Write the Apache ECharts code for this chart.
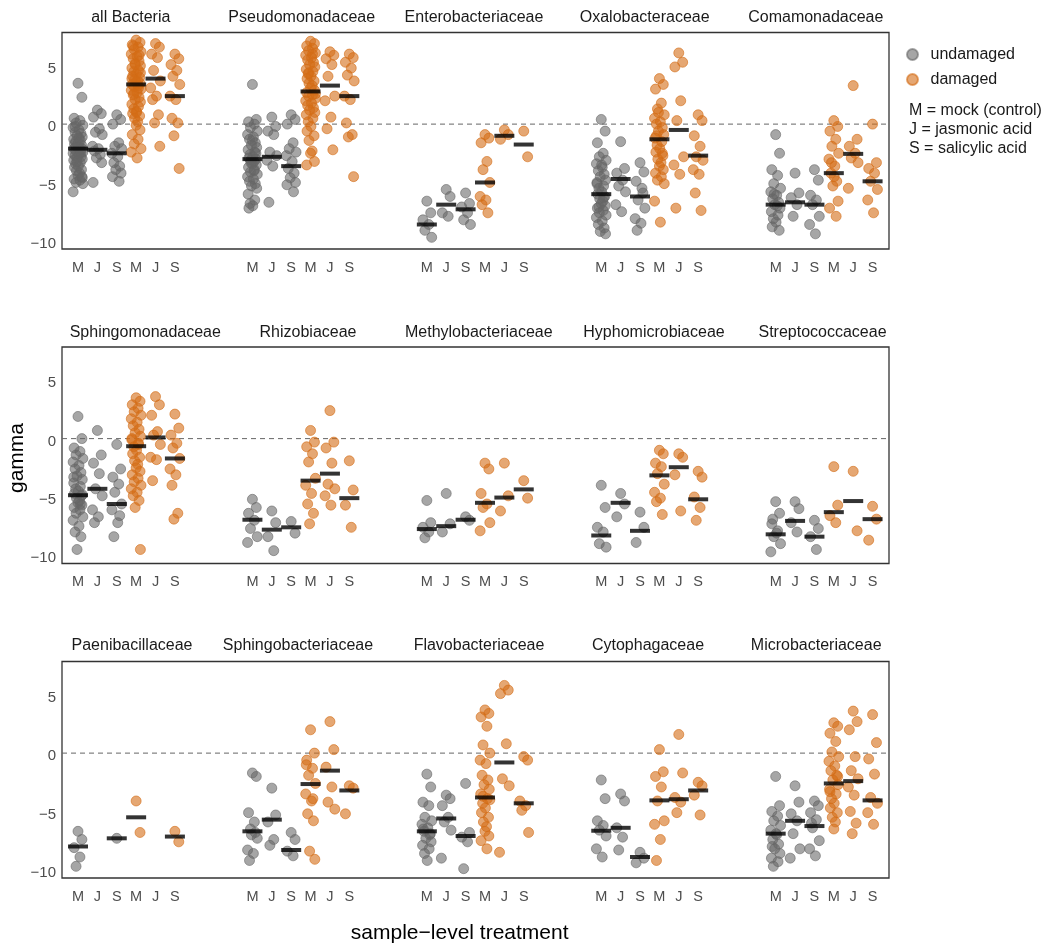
<!DOCTYPE html>
<html><head><meta charset="utf-8">
<script src="https://cdn.jsdelivr.net/npm/echarts@6/dist/echarts.min.js"></script>
<style>html,body{margin:0;padding:0;background:#fff}#c{width:1050px;height:952px}</style>
</head><body><div id="c"></div>
<script>
// ---------------- DATA ----------------
const families = ['all Bacteria','Pseudomonadaceae','Enterobacteriaceae','Oxalobacteraceae','Comamonadaceae',
  'Sphingomonadaceae','Rhizobiaceae','Methylobacteriaceae','Hyphomicrobiaceae','Streptococcaceae',
  'Paenibacillaceae','Sphingobacteriaceae','Flavobacteriaceae','Cytophagaceae','Microbacteriaceae'];
const tickLabels = ['M','J','S','M','J','S'];
const yTickValues = [-10,-5,0,5];
const legendNames = ['undamaged','damaged'];
const keyLines = ['M = mock (control)','J = jasmonic acid','S = salicylic acid'];

// each: [undamaged M, undamaged J, undamaged S, damaged M, damaged J, damaged S]
const v_allBacteria = [
  [3.5,2.3,0.5,0.3,0.1,-0.1,-0.3,-0.5,-0.7,-0.8,-1.0,-1.1,-1.3,-1.4,-1.5,-1.6,-1.7,-1.8,-1.9,-2.0,-2.0,-2.1,-2.1,-2.2,-2.3,-2.4,-2.5,-2.6,-2.7,-2.8,-2.9,-3.0,-3.1,-3.3,-3.4,-3.6,-3.7,-3.9,-4.0,-4.2,-4.4,-4.5,-4.7,-4.8,-5.0,-5.1,-5.8,-1.2,-0.2,-2.4,-3.2,-4.6],
  [1.2,0.9,0.6,-0.4,-0.7,-0.9,-1.9,-2.1,-2.3,-2.6,-2.9,-3.3,-5.0],
  [0.8,0.4,0.0,-1.6,-1.9,-2.1,-2.5,-2.8,-3.3,-3.6,-3.9,-4.2,-4.5,-4.9],
  [7.2,7.0,6.8,6.6,6.4,6.2,6.0,5.8,5.6,5.4,5.2,5.0,4.8,4.6,4.5,4.3,4.1,4.0,3.8,3.7,3.6,3.5,3.4,3.3,3.2,3.0,2.9,2.7,2.5,2.3,2.1,1.9,1.7,1.5,1.3,1.1,0.9,0.7,0.5,0.2,-0.1,-0.5,-0.9,-1.3,-1.7,-2.1,-2.4,-2.9,6.7,5.9,5.1,4.4,3.9,3.1,2.6,1.0],
  [6.9,6.6,6.0,5.7,4.6,3.7,3.1,2.4,2.1,0.8,0.1,-1.9],
  [6.0,5.6,5.1,4.6,4.1,3.4,2.4,2.1,0.5,0.1,-1.0,-3.8]
];
const v_Pseudomonadaceae = [
  [3.4,0.4,0.2,0.0,-0.3,-0.6,-0.9,-1.1,-1.3,-1.6,-1.8,-2.0,-2.2,-2.4,-2.6,-2.8,-2.9,-3.0,-3.1,-3.2,-3.4,-3.5,-3.7,-3.9,-4.1,-4.3,-4.5,-4.7,-4.9,-5.1,-5.3,-5.5,-6.0,-6.5,-6.8,-7.0,-7.2,-2.5,-3.3,-4.0,-1.4],
  [0.6,-0.2,-0.6,-0.9,-2.4,-2.7,-3.1,-3.6,-6.7],
  [0.8,0.4,0.0,-1.6,-2.1,-2.4,-2.7,-3.2,-3.8,-4.2,-4.6,-5.0,-5.2,-5.8],
  [7.1,6.9,6.7,6.5,6.3,6.1,5.9,5.7,5.5,5.3,5.1,4.9,4.7,4.5,4.3,4.1,3.9,3.7,3.5,3.3,3.1,2.9,2.7,2.5,2.4,2.2,2.0,1.8,1.6,1.4,1.2,1.0,0.8,0.5,0.2,-0.2,-0.6,-1.0,-1.4,-2.3,-2.5,-3.2,-3.5,6.0,4.4,2.6],
  [6.2,5.9,5.6,5.1,4.1,2.4,2.0,0.6,-0.4,-2.2],
  [6.0,5.7,5.3,4.8,4.2,3.7,2.4,2.1,0.1,-0.9,-1.1,-4.5]
];
const v_Enterobacteriaceae = [
  [-6.6,-7.6,-8.2,-8.6,-9.1,-9.7],
  [-5.6,-6.2,-7.6,-7.9],
  [-5.9,-6.8,-7.1,-7.6,-8.2,-8.6],
  [-0.9,-1.2,-1.6,-3.2,-3.9,-5.0,-6.2,-6.5,-6.9,-7.6],
  [-0.5,-0.9,-1.3],
  [-0.6,-2.8]
];
const v_Oxalobacteraceae = [
  [0.4,-0.6,-1.6,-2.5,-2.8,-3.1,-3.4,-3.7,-4.0,-4.3,-4.5,-4.8,-5.0,-5.3,-5.5,-5.8,-6.0,-6.2,-6.4,-6.6,-6.8,-7.0,-7.2,-7.4,-7.6,-7.8,-8.0,-8.3,-8.6,-8.9,-9.2,-9.4,-5.1,-6.3,-7.1,-3.5],
  [-1.5,-3.8,-4.2,-4.8,-5.3,-5.8,-6.9,-7.5],
  [-3.3,-4.1,-4.9,-5.5,-6.5,-7.2,-8.1,-8.5,-9.1,-5.9],
  [3.9,3.4,3.0,1.8,1.3,0.8,0.5,0.2,0.0,-0.3,-0.6,-0.9,-1.2,-1.5,-1.8,-2.1,-2.4,-2.7,-3.0,-3.3,-3.6,-3.9,-4.2,-4.5,-4.8,-5.1,-6.6,-8.4,-1.0,-2.5,1.0],
  [6.1,5.3,4.9,2.0,0.3,-2.8,-3.5,-4.3,-7.2],
  [0.8,0.3,-1.0,-1.9,-2.8,-3.1,-3.9,-4.3,-5.9,-7.4]
];
const v_Comamonadaceae = [
  [-0.9,-2.5,-3.9,-4.4,-5.1,-5.5,-5.8,-6.1,-6.4,-6.7,-6.9,-7.2,-7.5,-7.8,-8.1,-8.4,-8.8,-9.1,-6.0,-7.0],
  [-4.2,-5.9,-6.3,-6.9,-7.9],
  [-3.9,-4.8,-6.1,-6.5,-6.9,-7.9,-8.6,-9.4],
  [0.3,-0.2,-0.6,-1.3,-1.9,-2.5,-3.0,-3.6,-4.2,-4.9,-5.3,-6.6,-7.2,-7.9,-3.3,-4.5],
  [3.3,-1.3,-1.9,-2.5,-2.9,-3.3,-5.5],
  [0.0,-3.3,-3.8,-4.2,-4.9,-5.6,-6.5,-7.6]
];
const v_Sphingomonadaceae = [
  [1.9,0.0,-0.8,-1.1,-1.4,-1.7,-2.0,-2.3,-2.6,-2.9,-3.2,-3.5,-3.8,-4.1,-4.3,-4.5,-4.7,-4.9,-5.1,-5.3,-5.5,-5.7,-5.9,-6.1,-6.4,-6.7,-7.0,-7.5,-8.0,-8.4,-9.5,-4.8,-3.3,-5.6],
  [0.7,-1.4,-2.1,-3.0,-4.3,-4.9,-6.1,-6.7,-7.2],
  [-0.5,-2.6,-3.3,-3.9,-4.6,-5.6,-6.1,-7.2,-8.4,-6.6],
  [3.5,3.2,2.9,2.6,2.3,2.0,1.7,1.4,1.1,0.8,0.5,0.2,-0.1,-0.4,-0.7,-1.0,-1.3,-1.6,-1.9,-2.2,-2.5,-2.8,-3.1,-3.4,-3.7,-4.0,-4.3,-4.6,-4.9,-5.3,-5.9,-9.5,0.0,-0.5],
  [3.6,2.9,2.0,0.6,0.3,-0.5,-1.6,-1.8,-3.6],
  [2.1,0.9,0.3,-0.4,-0.8,-1.7,-2.6,-3.1,-4.0,-6.4,-6.9]
];
const v_Rhizobiaceae = [
  [-5.2,-5.9,-6.4,-7.0,-7.7,-8.4,-8.9],
  [-6.2,-7.2,-8.4,-9.6],
  [-7.1,-8.1],
  [0.7,-0.3,-0.7,-1.3,-2.0,-3.4,-4.0,-4.7,-5.6,-6.4,-7.3],
  [2.4,-0.3,-0.8,-2.1,-3.9,-4.3,-4.9,-5.7],
  [-1.9,-4.4,-5.7,-7.6]
];
const v_Methylobacteriaceae = [
  [-5.3,-7.2,-7.6,-8.0,-8.5],
  [-4.7,-7.3,-8.0],
  [-6.7,-7.0],
  [-2.1,-2.6,-4.7,-5.6,-5.9,-7.2,-7.9],
  [-2.1,-4.9,-6.2],
  [-3.6,-5.1]
];
const v_Hyphomicrobiaceae = [
  [-4.0,-5.9,-7.6,-8.0,-9.0,-9.3],
  [-4.7,-5.6,-6.7],
  [-6.3,-7.6,-8.9],
  [-1.0,-1.3,-2.1,-2.4,-3.0,-3.9,-4.6,-5.1,-5.4,-6.5],
  [-1.3,-1.6,-3.1,-6.2],
  [-2.8,-3.3,-5.0,-5.9,-7.0]
];
const v_Streptococcaceae = [
  [-5.4,-6.4,-7.3,-7.9,-8.4,-9.0,-9.7,-8.1,-6.9],
  [-5.4,-6.0,-7.2,-8.0],
  [-7.0,-7.7,-8.4,-9.5],
  [-2.4,-5.7,-6.6,-7.2],
  [-2.8,-7.9],
  [-5.8,-6.9,-8.7]
];
const v_Paenibacillaceae = [
  [-6.7,-7.4,-8.1,-8.9,-9.7],
  [],
  [-7.3],
  [-4.1,-6.8],
  [],
  [-6.7,-7.6]
];
const v_Sphingobacteriaceae = [
  [-1.7,-2.0,-5.1,-5.9,-6.5,-7.3,-8.3,-8.6,-9.2,-6.8,-7.0],
  [-3.0,-5.3,-5.9,-7.4,-7.9],
  [-6.8,-7.4,-8.4,-8.8],
  [2.0,0.0,-0.6,-1.3,-1.9,-2.6,-3.5,-4.1,-5.2,-5.8,-8.4,-9.1,-1.0,-3.9],
  [2.7,0.3,-1.2,-2.9,-4.2,-4.8],
  [-2.8,-3.0,-5.2]
];
const v_Flavobacteriaceae = [
  [-1.8,-2.9,-4.2,-4.5,-5.5,-5.8,-6.1,-6.4,-6.7,-7.0,-7.3,-7.6,-7.9,-8.2,-8.6,-9.2,-6.5,-6.9],
  [-3.6,-3.9,-4.5,-5.5,-5.9,-6.6,-9.0],
  [-2.6,-6.8,-7.2,-7.6,-9.9],
  [3.7,3.4,3.1,2.3,0.7,0.0,-0.6,-0.9,-1.9,-2.3,-2.7,-3.1,-3.5,-3.9,-4.3,-4.7,-5.1,-5.5,-5.9,-6.3,-6.7,-7.1,-7.5,-8.2,-3.7,-4.0],
  [5.8,5.4,5.1,0.8,-2.2,-2.8,-8.5],
  [-0.3,-0.6,-4.1,-4.5,-4.9,-6.8]
];
const v_Cytophagaceae = [
  [-2.3,-3.9,-5.8,-6.2,-6.6,-7.1,-8.2,-8.9],
  [-3.5,-4.1,-6.4,-7.2,-8.3],
  [-8.5,-9.0,-9.4],
  [0.3,-1.6,-2.0,-2.9,-4.1,-5.8,-6.1,-7.4,-9.2],
  [1.6,-1.7,-3.8,-4.2,-5.1],
  [-2.5,-2.8,-3.6,-5.3]
];
const v_Microbacteriaceae = [
  [-2.0,-4.5,-5.0,-5.4,-5.8,-6.2,-6.6,-7.0,-7.4,-7.8,-8.2,-8.6,-9.0,-9.3,-9.7,-6.9,-8.0],
  [-2.8,-4.2,-5.2,-5.8,-6.9,-8.2,-9.0],
  [-4.1,-4.5,-5.1,-5.7,-6.4,-7.5,-8.2,-8.8,-6.0],
  [2.6,2.3,1.7,1.0,0.1,-0.3,-0.7,-1.1,-1.5,-1.9,-2.3,-2.7,-3.1,-3.5,-3.9,-4.3,-4.7,-5.1,-5.5,-5.9,-6.5,-2.0,-3.3],
  [3.6,2.7,2.0,-0.3,-1.5,-2.2,-2.9,-3.6,-5.0,-6.0,-6.9],
  [3.3,0.9,-0.5,-1.8,-3.8,-4.3,-5.1,-6.1]
];
const familyValues = [v_allBacteria,v_Pseudomonadaceae,v_Enterobacteriaceae,v_Oxalobacteraceae,v_Comamonadaceae,
  v_Sphingomonadaceae,v_Rhizobiaceae,v_Methylobacteriaceae,v_Hyphomicrobiaceae,v_Streptococcaceae,
  v_Paenibacillaceae,v_Sphingobacteriaceae,v_Flavobacteriaceae,v_Cytophagaceae,v_Microbacteriaceae];

const medians = [
  [-2.1,-2.2,-2.5,3.4,3.9,2.4],
  [-3.0,-2.8,-3.6,2.8,3.3,2.4],
  [-8.6,-6.9,-7.3,-5.0,-1.0,-1.75],
  [-6.0,-4.7,-6.2,-1.3,-0.5,-2.7],
  [-6.9,-6.7,-6.9,-4.2,-2.55,-4.9],
  [-4.85,-4.3,-5.6,-0.65,0.1,-1.7],
  [-6.95,-7.8,-7.6,-3.6,-3.0,-5.1],
  [-7.75,-7.5,-6.95,-5.5,-5.05,-4.35],
  [-8.3,-5.5,-7.9,-3.15,-2.45,-5.2],
  [-8.2,-7.05,-8.4,-6.3,-5.35,-6.9],
  [-8.0,null,-7.3,-5.5,null,-7.15],
  [-6.7,-5.7,-8.3,-2.65,-1.5,-3.2],
  [-6.7,-5.6,-7.1,-3.8,-0.8,-4.3],
  [-6.65,-6.4,-8.9,-4.05,-3.95,-3.2],
  [-6.9,-5.8,-6.25,-2.6,-2.4,-4.05]
];

// ---------------- LAYOUT / STYLE ----------------
const FONT = 'Liberation Sans, Arial, Helvetica, sans-serif';
const ROW_TOP = [32.5, 347, 661.5];
const ROW_H = 216.5;
const FRAME_L = 62, FRAME_W = 827;
const UNIT = 19.38, DATA_L = 78, SLOTS = 41, STRIDE = 9;
const Y_MIN = -10.7, Y_MAX = 7.85;
const TITLE_X = [[130.8,301.7,474,644.7,815.8],[145.3,308,478.8,654,822.5],[132,298,479,648,816.2]];
const TITLE_CY = [16, 330.7, 644];
const JIT = [0,0.2,-0.2,0.1,-0.1,0.25,-0.25,0.05,-0.15,0.15,-0.05,0.22,-0.22,0.12,-0.12,0.02,-0.18,0.18,-0.08,0.08];
const COLORS = ['rgba(102,102,102,0.58)','rgba(212,108,22,0.6)'];

const grids=[], xAxes=[], yAxes=[], series=[], titles=[];
const axisLabelStyle = {color:'#4d4d4d', fontSize:14.5, fontFamily:FONT};

for (let r=0;r<3;r++){
  const gi = grids.length;
  grids.push({left:FRAME_L, top:ROW_TOP[r], width:FRAME_W, height:ROW_H, show:true, borderColor:'#333', borderWidth:1.3, backgroundColor:'transparent'});
  grids.push({left:DATA_L, top:ROW_TOP[r], width:SLOTS*UNIT, height:ROW_H});
  xAxes.push({type:'value', gridIndex:gi, min:0, max:1, show:false});
  xAxes.push({type:'value', gridIndex:gi+1, min:0, max:SLOTS, interval:1,
    axisLine:{show:false}, axisTick:{show:false}, splitLine:{show:false},
    axisLabel:Object.assign({margin:11, formatter:v=>{const m=Math.round(v)%STRIDE; return m<6?tickLabels[m]:'';}}, axisLabelStyle)});
  yAxes.push({type:'value', gridIndex:gi, min:Y_MIN, max:Y_MAX, splitNumber:4, minInterval:5, maxInterval:5,
    axisLine:{show:false}, axisTick:{show:false}, splitLine:{show:false},
    axisLabel:{margin:6, showMinLabel:false, showMaxLabel:false,
      formatter:v=> yTickValues.includes(v) ? '{t|'+(v<0?'\u2212'+(-v):String(v))+'}' : '',
      rich:{t:{color:'#4d4d4d', fontSize:15, fontFamily:FONT, padding:[6,0,0,0]}}}});
  yAxes.push({type:'value', gridIndex:gi+1, min:Y_MIN, max:Y_MAX, show:false});

  // zero reference line
  series.push({type:'line', xAxisIndex:gi, yAxisIndex:gi, data:[[0,0],[1,0]], symbol:'none', silent:true,
    lineStyle:{color:'#666', width:1, type:[5,4]}, z:1, animation:false});

  const ptData=[[],[]], medData=[];
  for (let g=0; g<5; g++){
    const fi = r*5+g;
    const vals = familyValues[fi];
    for (let k=0;k<6;k++){
      const grp = k<3?0:1;
      const xc = g*STRIDE + k;
      vals[k].forEach((v,i)=>{ ptData[grp].push([xc + JIT[i%JIT.length], v]); });
      if (medians[fi][k]!==null) medData.push([xc, medians[fi][k]]);
    }
    titles.push({text:families[fi], left:TITLE_X[r][g], top:TITLE_CY[r]-6.5, textAlign:'center', padding:0,
      textStyle:{fontSize:16, fontWeight:'normal', color:'#1a1a1a', fontFamily:FONT}});
  }
  for (let s=0;s<2;s++){
    series.push({type:'scatter', name:legendNames[s], xAxisIndex:gi+1, yAxisIndex:gi+1, data:ptData[s],
      symbol:'circle', symbolSize:10, clip:false, z:2,
      itemStyle:{color:COLORS[s], borderColor:COLORS[s], borderWidth:1, opacity:1}});
  }
  series.push({type:'scatter', name:'median', xAxisIndex:gi+1, yAxisIndex:gi+1, data:medData,
    symbol:'rect', symbolSize:[20,4], clip:false, z:5, itemStyle:{color:'#000'}, silent:true});
}

titles.push({text:keyLines.join('\n'), left:909, top:101.5, padding:0,
  textStyle:{fontSize:16, lineHeight:19, fontWeight:'normal', color:'#1a1a1a', fontFamily:FONT}});
titles.push({text:'sample\u2212level treatment', left:459.7, top:923, textAlign:'center', padding:0,
  textStyle:{fontSize:21, fontWeight:'normal', color:'#000', fontFamily:FONT}});

const chart = echarts.init(document.getElementById('c'), null, {renderer:'canvas'});
chart.setOption({
  animation:false,
  backgroundColor:'#fff',
  textStyle:{fontFamily:FONT},
  title:titles,
  legend:{data:legendNames, orient:'vertical', left:901, top:41.5, itemWidth:26, itemHeight:11, itemGap:9,
    icon:'circle', textStyle:{fontSize:16, color:'#1a1a1a', fontFamily:FONT}, selectedMode:false},
  grid:grids, xAxis:xAxes, yAxis:yAxes, series:series,
  graphic:[{type:'text', x:17, y:458, rotation:Math.PI/2,
    style:{text:'gamma', font:'21px '+FONT, fill:'#000', align:'center', verticalAlign:'middle', textAlign:'center', textVerticalAlign:'middle'}}]
});
</script></body></html>
